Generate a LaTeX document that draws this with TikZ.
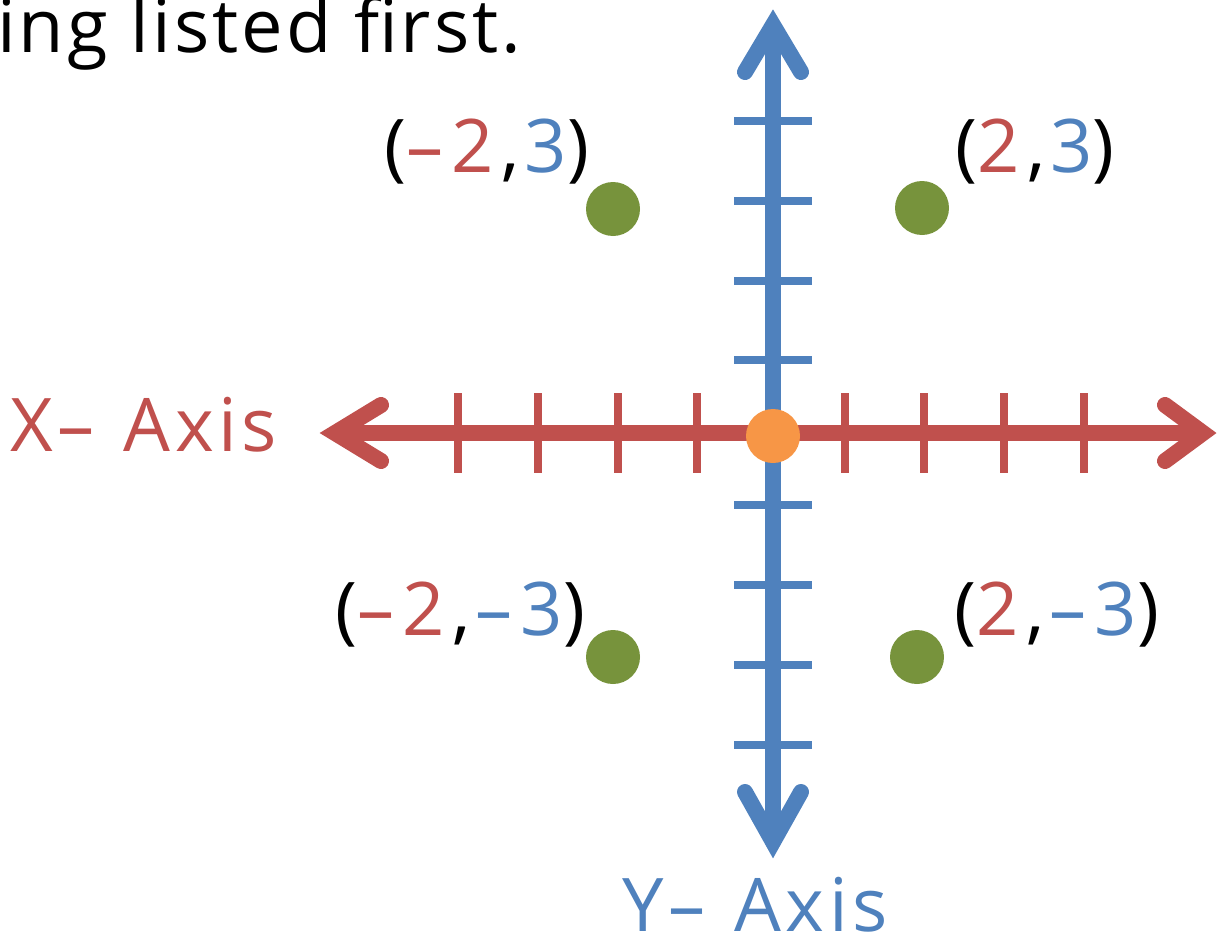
\documentclass[tikz,border=0pt]{standalone}
\usepackage{fontspec}
\setmainfont{Open Sans}
\newfontfamily\widefont[LetterSpace=6]{Open Sans}
\newfontfamily\coordfont[LetterSpace=11]{Open Sans}
\newfontfamily\midfont[LetterSpace=4.2]{Open Sans}
\newcommand\coordsep{\kern8pt,\kern5pt}
\definecolor{axred}{HTML}{C0504D}
\definecolor{axblue}{HTML}{4F81BD}
\definecolor{ptgreen}{HTML}{77933C}
\definecolor{ptorange}{HTML}{F79646}
\begin{document}
\begin{tikzpicture}[x=1pt,y=-1pt,
  axisline/.style={line width=16pt},
  headline/.style={line width=16pt, line cap=round, line join=miter},
  tickline/.style={line width=8pt},
  ptdot/.style={circle, fill=ptgreen, minimum size=54pt, inner sep=0pt},
  lbl/.style={font=\widefont\fontsize{74}{88}\selectfont, inner sep=0pt, anchor=base west},
  coordlbl/.style={lbl, font=\coordfont\fontsize{74}{88}\selectfont}]
\useasboundingbox (0,0) rectangle (1220,939);
% axis end points
\coordinate (xl) at (335,433);
\coordinate (xr) at (1203,433);
\coordinate (yt) at (773,25);
\coordinate (yb) at (773,842);
% x axis
\draw[axisline, axred] (xl) -- (xr);
\draw[headline, axred] (381,405) -- (xl) -- (381,461);
\draw[headline, axred] (1165,405) -- (xr) -- (1165,461);
\foreach \x in {458,538,618,697,845,924,1004,1084}
  \draw[tickline, axred] (\x,393) -- (\x,473);
% y axis
\draw[axisline, axblue] (yt) -- (yb);
\draw[headline, axblue] (745,72) -- (yt) -- (801,72);
\draw[headline, axblue] (745,792) -- (yb) -- (801,792);
\foreach \y in {121,201,281,360,505,585,665,745}
  \draw[tickline, axblue] (734,\y) -- (812,\y);
% origin
\node[circle, fill=ptorange, minimum size=54pt, inner sep=0pt] (o) at (773,436) {};
% points
\node[ptdot] (p1) at (613,209) {};
\node[ptdot] (p2) at (922,208) {};
\node[ptdot] (p3) at (613,657) {};
\node[ptdot] (p4) at (917,657) {};
% labels
\node[coordlbl] (l1) at (384,172) {(\textcolor{axred}{–2}\coordsep\textcolor{axblue}{3})};
\node[coordlbl] (l2) at (955,172) {(\textcolor{axred}{2}\coordsep\textcolor{axblue}{3})};
\node[coordlbl] (l3) at (335,635) {(\textcolor{axred}{–2}\coordsep\textcolor{axblue}{–3})};
\node[coordlbl] (l4) at (954,635) {(\textcolor{axred}{2}\coordsep\textcolor{axblue}{–3})};
\node[lbl, text=axred] (xa) at (10,451) {X–\hspace{6pt} Axis};
\node[lbl, text=axblue] (ya) at (622,931) {Y–\hspace{6pt} Axis};
\node[lbl, font=\midfont\fontsize{74}{88}\selectfont] (top) at (-3,53) {ing listed first.};
\end{tikzpicture}
\end{document}
